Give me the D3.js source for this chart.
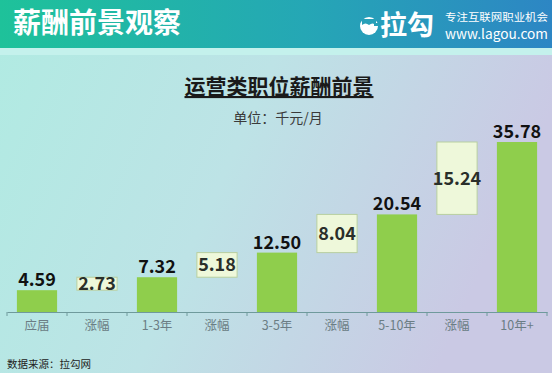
<!DOCTYPE html>
<html>
<head>
<meta charset="utf-8">
<script src="https://d3js.org/d3.v7.min.js"></script>
<style>
  body { margin: 0; padding: 0; overflow: hidden; }
  text { font-family: "Noto Sans CJK SC", "Noto Sans", sans-serif; }
</style>
</head>
<body>
<svg id="vis"></svg>
<script>
  // categories along the x axis (bars and increase boxes alternate)
  var categories = ['应届', '涨幅', '1-3年', '涨幅', '3-5年', '涨幅', '5-10年', '涨幅', '10年+'];
  // salary levels (thousand yuan / month)
  var levels = [4.59, 7.32, 12.50, 20.54, 35.78];
  // increases between levels
  var increases = [2.73, 5.18, 8.04, 15.24];

  var width = 552, height = 373;

  var svg = d3.select('#vis')
      .attr('width', width)
      .attr('height', height);

  var defs = svg.append('defs');
  var bg = defs.append('linearGradient').attr('id', 'bg')
      .attr('x1', 0).attr('y1', 0).attr('x2', 1).attr('y2', 0.3);
  bg.append('stop').attr('offset', 0).attr('stop-color', '#b0ebe2');
  bg.append('stop').attr('offset', 0.5).attr('stop-color', '#bde3e6');
  bg.append('stop').attr('offset', 1).attr('stop-color', '#cac9e4');
  var hd = defs.append('linearGradient').attr('id', 'hd')
      .attr('x1', 0).attr('y1', 0).attr('x2', 1).attr('y2', 0);
  hd.append('stop').attr('offset', 0).attr('stop-color', '#1ec29a');
  hd.append('stop').attr('offset', 0.55).attr('stop-color', '#25a7b5');
  hd.append('stop').attr('offset', 1).attr('stop-color', '#2d86c4');

  // background + header band
  svg.append('rect').attr('width', width).attr('height', height).attr('fill', 'url(#bg)');
  svg.append('rect').attr('width', width).attr('height', 55).attr('fill', '#c4f1ec');
  svg.append('rect').attr('width', width).attr('height', 48).attr('fill', 'url(#hd)');

  svg.append('text')
      .attr('x', 13).attr('y', 33)
      .attr('fill', '#ffffff')
      .attr('font-size', 28).attr('font-weight', 'bold')
      .text('薪酬前景观察');

  // lagou logo
  var logo = svg.append('g').attr('transform', 'translate(369,26)');
  logo.append('circle').attr('r', 9).attr('fill', '#ffffff');
  logo.append('path')
      .attr('d', 'M-7,-1 Q-3.5,-4 0,-1 Q3.5,-4 7,-1 L7,-7 L-7,-7 Z')
      .attr('fill', '#28a0b8');
  logo.append('rect').attr('x', 5).attr('y', -3).attr('width', 5).attr('height', 3).attr('fill', '#28a0b8');
  svg.append('text')
      .attr('x', 380).attr('y', 35)
      .attr('fill', '#ffffff')
      .attr('font-size', 27).attr('font-weight', 'bold')
      .text('拉勾');
  svg.append('text')
      .attr('x', 445).attr('y', 20.5)
      .attr('fill', '#ffffff')
      .attr('font-size', 10.5)
      .attr('textLength', 103)
      .attr('lengthAdjust', 'spacingAndGlyphs')
      .text('专注互联网职业机会');
  svg.append('text')
      .attr('x', 445).attr('y', 39)
      .attr('fill', '#ffffff')
      .attr('font-size', 13.5)
      .attr('font-family', 'Liberation Sans, Arial, sans-serif')
      .attr('textLength', 103)
      .attr('lengthAdjust', 'spacingAndGlyphs')
      .text('www.lagou.com');

  // titles
  svg.append('text')
      .attr('x', 279).attr('y', 94)
      .attr('text-anchor', 'middle')
      .attr('fill', '#1a1a1a')
      .attr('font-size', 21).attr('font-weight', 'bold')
      .attr('text-decoration', 'underline')
      .text('运营类职位薪酬前景');
  svg.append('text')
      .attr('x', 278).attr('y', 123)
      .attr('text-anchor', 'middle')
      .attr('fill', '#3a3a3a')
      .attr('font-size', 14)
      .text('单位：千元/月');

  // scales
  var x = d3.scaleBand()
      .domain(d3.range(categories.length))
      .range([7, 547])
      .paddingInner(0.33)
      .paddingOuter(0.165);

  var y = d3.scaleLinear()
      .domain([0, 35.78])
      .range([312, 142]);

  // axis
  var xAxis = d3.axisBottom(x)
      .tickFormat(function(i) { return categories[i]; })
      .tickSize(0)
      .tickPadding(9);
  var axisG = svg.append('g')
      .attr('transform', 'translate(0,312)')
      .call(xAxis);
  axisG.select('.domain').attr('stroke', '#6f9a9c').attr('stroke-width', 1.2);
  axisG.selectAll('text')
      .attr('fill', '#6b7d84')
      .attr('font-size', 12.5)
      .attr('font-family', '"Noto Sans CJK SC", sans-serif');

  // tick marks at band boundaries
  var step = x.step();
  axisG.selectAll('.bnd')
      .data(d3.range(categories.length + 1))
      .enter().append('line')
      .attr('x1', function(i) { return 7 + i * step; })
      .attr('x2', function(i) { return 7 + i * step; })
      .attr('y1', 0).attr('y2', 4)
      .attr('stroke', '#6f9a9c');

  // level bars
  svg.selectAll('rect.bar')
      .data(levels)
      .enter().append('rect')
      .attr('class', 'bar')
      .attr('x', function(d, i) { return x(i * 2); })
      .attr('y', function(d) { return y(d); })
      .attr('width', x.bandwidth())
      .attr('height', function(d) { return y(0) - y(d); })
      .attr('fill', '#8fce4c');

  svg.selectAll('text.barlab')
      .data(levels)
      .enter().append('text')
      .attr('class', 'barlab')
      .attr('x', function(d, i) { return x(i * 2) + x.bandwidth() / 2; })
      .attr('y', function(d) { return y(d) - 4; })
      .attr('text-anchor', 'middle')
      .attr('fill', '#111')
      .attr('font-size', 18).attr('font-weight', 'bold')
      .attr('font-family', '"Open Sans", sans-serif')
      .text(function(d) { return d.toFixed(2); });

  // increase boxes (waterfall)
  svg.selectAll('rect.inc')
      .data(increases)
      .enter().append('rect')
      .attr('class', 'inc')
      .attr('x', function(d, i) { return x(i * 2 + 1); })
      .attr('y', function(d, i) { return y(levels[i] + d); })
      .attr('width', x.bandwidth())
      .attr('height', function(d, i) { return y(levels[i]) - y(levels[i] + d); })
      .attr('fill', '#eef8da')
      .attr('stroke', '#b8cfa0')
      .attr('stroke-width', 1);

  svg.selectAll('text.inclab')
      .data(increases)
      .enter().append('text')
      .attr('class', 'inclab')
      .attr('x', function(d, i) { return x(i * 2 + 1) + x.bandwidth() / 2; })
      .attr('y', function(d, i) { return (y(levels[i]) + y(levels[i] + d)) / 2; })
      .attr('dy', '0.36em')
      .attr('text-anchor', 'middle')
      .attr('fill', '#2a2f2a')
      .attr('font-size', 18).attr('font-weight', 'bold')
      .attr('font-family', '"Open Sans", sans-serif')
      .text(function(d) { return d.toFixed(2); });

  // source
  svg.append('text')
      .attr('x', 7).attr('y', 368)
      .attr('fill', '#222')
      .attr('font-size', 10.5)
      .text('数据来源：拉勾网');
</script>
</body>
</html>
